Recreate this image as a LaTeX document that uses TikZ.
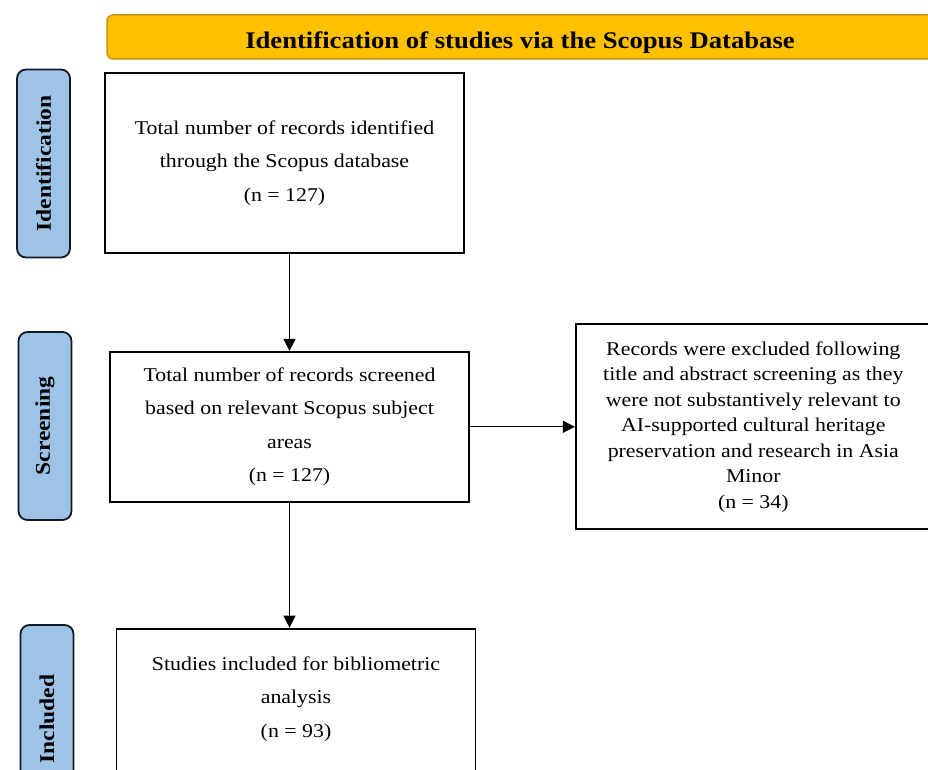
\documentclass[tikz,border=0pt]{standalone}
\usepackage{fontspec}
\setmainfont[FakeStretch=1.12]{Liberation Serif}
\usetikzlibrary{positioning,arrows.meta}
\definecolor{bannerfill}{RGB}{255,192,0}
\definecolor{bannerline}{RGB}{196,150,20}
\definecolor{phasefill}{RGB}{157,195,230}
\definecolor{phaseline}{RGB}{20,25,35}
\begin{document}
\begin{tikzpicture}[x=1pt,y=-1pt,
            banner/.style = {rectangle, draw=bannerline, fill=bannerfill, line width=1.5pt,
                   rounded corners=6pt, minimum width=826pt, minimum height=44pt,
                   text height=23pt, text depth=0pt, inner sep=2pt,
                   font=\fontsize{23.8}{26}\selectfont\bfseries},
            phase/.style = {rectangle, draw=phaseline, fill=phasefill, line width=1.8pt,
                   rounded corners=9pt, rotate=90, minimum width=188pt, minimum height=53pt,
                   font=\fontsize{21}{24}\selectfont\bfseries},
            block/.style={rectangle, draw, line width=1.8pt, align=center, inner sep=0pt,
                   minimum width=359pt, font=\fontsize{19.5}{33.5}\selectfont},
            arrow/.style={-{Triangle[length=12pt,width=12pt]}, line width=1.1pt}
        ]
            \useasboundingbox (0,0) rectangle (928,770);
            \clip (0,0) rectangle (928,770);
            \node [banner] (title) at (520,37) {Identification of studies via the Scopus Database};

            \node [phase] (ident) at (43.5,163.5) {Identification};
            \node [phase] (screen) at (45,426) {Screening};
            \node [phase] (incl) at (47,719) {Included};

            \node [block, minimum height=180pt] (records) at (284.5,163) {Total number of records identified\\through the Scopus database\\(n = 127)};
            \node [block, minimum height=150pt, below=97pt of records, xshift=5pt] (screened) {Total number of records screened\\based on relevant Scopus subject\\areas\\(n = 127)};
            \node [block, minimum width=355pt, minimum height=205pt, right=105pt of screened,
                   font=\fontsize{19.5}{25.5}\selectfont] (excluded) {Records were excluded following\\title and abstract screening as they\\were not substantively relevant to\\AI-supported cultural heritage\\preservation and research in Asia\\Minor\\(n = 34)};
            \node [block, minimum height=180pt, below=125pt of screened, xshift=6.5pt] (included) {Studies included for bibliometric\\analysis\\(n = 93)\\[10pt]\mbox{}};

            % Draw edges
            \draw [arrow] (screened.north |- records.south) -- (screened.north);
            \draw [arrow] (screened.east) -- (excluded.west |- screened.east);
            \draw [arrow] (screened.south) -- (screened.south |- included.north);
        \end{tikzpicture}
\end{document}
